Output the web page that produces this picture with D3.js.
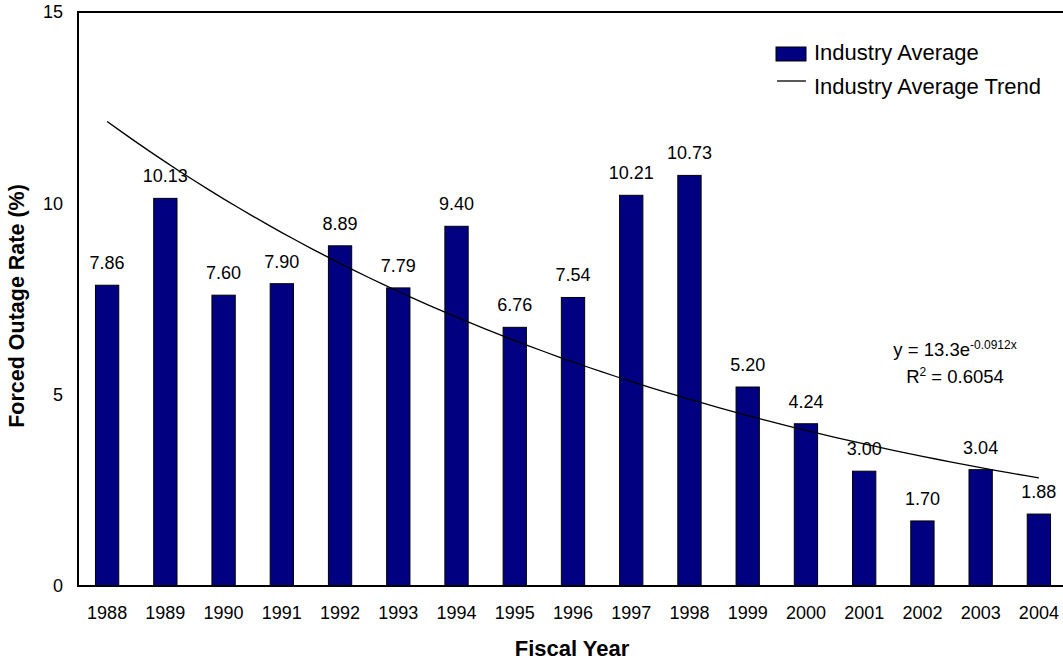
<!DOCTYPE html>
<html>
<head>
<meta charset="utf-8">
<script src="https://cdn.jsdelivr.net/npm/d3@7"></script>
<style>
  html, body { margin: 0; padding: 0; background: #fff; }
  svg { display: block; font-family: "Liberation Sans", Arial, sans-serif; }
</style>
</head>
<body>
<svg id="chart" width="1063" height="666"></svg>
<script>
const years = ["1988","1989","1990","1991","1992","1993","1994","1995","1996","1997","1998","1999","2000","2001","2002","2003","2004"];
const rates = [7.86,10.13,7.60,7.90,8.89,7.79,9.40,6.76,7.54,10.21,10.73,5.20,4.24,3.00,1.70,3.04,1.88];
const yTicks = [0,5,10,15];
const legendLabels = ["Industry Average","Industry Average Trend"];
const equationText = ["y = 13.3e", "-0.0912x"];
const rSquaredText = "R", rSquaredValue = " = 0.6054";

const svg = d3.select("#chart");
const plot = {left: 78, top: 12, right: 1068, bottom: 586};

const x = d3.scaleBand().domain(years).range([plot.left, plot.right]).padding(0);
const y = d3.scaleLinear().domain([0, 15]).range([plot.bottom, plot.top]);
const barW = x.bandwidth() * 0.4;

// Exponential trend fitted to the bar values (least squares on ln y)
const n = rates.length;
const xs = d3.range(1, n + 1);
const ly = rates.map(Math.log);
const mx = d3.mean(xs), my = d3.mean(ly);
const b = d3.sum(xs, (v, i) => (v - mx) * (ly[i] - my)) / d3.sum(xs, v => (v - mx) * (v - mx));
const a = Math.exp(my - b * mx);
const trendPts = d3.range(1, n + 0.001, 0.25).map(t => [t, a * Math.exp(b * t)]);
const xt = d3.scaleLinear().domain([1, n]).range([x(years[0]) + x.bandwidth()/2, x(years[n-1]) + x.bandwidth()/2]);

// bars
svg.append("g").selectAll("rect").data(years).join("rect")
  .attr("x", (d) => x(d) + x.bandwidth()/2 - barW/2)
  .attr("y", (d, i) => y(rates[i]))
  .attr("width", barW)
  .attr("height", (d, i) => y(0) - y(rates[i]))
  .attr("fill", "#000080")
  .attr("stroke", "#000")
  .attr("stroke-width", 1);

// bar labels
svg.append("g").selectAll("text").data(years).join("text")
  .attr("x", d => x(d) + x.bandwidth()/2)
  .attr("y", (d, i) => y(rates[i]) - 16)
  .attr("text-anchor", "middle")
  .attr("font-size", 18)
  .attr("fill", "#000")
  .text((d, i) => rates[i].toFixed(2));

// trend line
svg.append("path")
  .datum(trendPts)
  .attr("d", d3.line().x(p => xt(p[0])).y(p => y(p[1])))
  .attr("fill", "none")
  .attr("stroke", "#000")
  .attr("stroke-width", 1.3);

// frame
svg.append("rect")
  .attr("x", plot.left).attr("y", plot.top)
  .attr("width", plot.right - plot.left).attr("height", plot.bottom - plot.top)
  .attr("fill", "none").attr("stroke", "#000").attr("stroke-width", 2);

// y axis
const yAxis = svg.append("g")
  .attr("transform", `translate(${plot.left},0)`)
  .call(d3.axisLeft(y).tickValues(yTicks).tickSize(0).tickPadding(15).tickFormat(d3.format("d")));
yAxis.select(".domain").remove();
yAxis.selectAll("text").attr("font-size", 18).attr("font-family", "Liberation Sans, Arial, sans-serif").attr("fill", "#000");

// x axis
const xAxis = svg.append("g")
  .attr("transform", `translate(0,${plot.bottom})`)
  .call(d3.axisBottom(x).tickSize(0).tickPadding(20));
xAxis.select(".domain").remove();
xAxis.selectAll("text").attr("font-size", 18).attr("font-family", "Liberation Sans, Arial, sans-serif").attr("fill", "#000");

// axis titles
svg.append("text")
  .attr("x", 572).attr("y", 656)
  .attr("text-anchor", "middle").attr("font-size", 22).attr("font-weight", "bold")
  .text("Fiscal Year");
svg.append("text")
  .attr("transform", `translate(24,${(plot.top + plot.bottom)/2 + 7}) rotate(-90)`)
  .attr("text-anchor", "middle").attr("font-size", 21.5).attr("font-weight", "bold")
  .text("Forced Outage Rate (%)");

// legend
const lg = svg.append("g");
lg.append("rect").attr("x", 776).attr("y", 47).attr("width", 30).attr("height", 14)
  .attr("fill", "#000080").attr("stroke", "#000").attr("stroke-width", 1);
lg.append("line").attr("x1", 777).attr("x2", 806).attr("y1", 81).attr("y2", 81)
  .attr("stroke", "#000").attr("stroke-width", 1.3);
lg.selectAll("text").data(legendLabels).join("text")
  .attr("x", 814).attr("y", (d, i) => 60 + i * 34)
  .attr("font-size", 22).attr("fill", "#000")
  .text(d => d);

// equation
const eq = svg.append("text").attr("x", 955).attr("y", 356).attr("text-anchor", "middle").attr("font-size", 18.5);
eq.append("tspan").text(equationText[0]);
eq.append("tspan").attr("font-size", 12).attr("dy", -7).text(equationText[1]);
const r2 = svg.append("text").attr("x", 955).attr("y", 383).attr("text-anchor", "middle").attr("font-size", 18.5);
r2.append("tspan").text(rSquaredText);
r2.append("tspan").attr("font-size", 12).attr("dy", -7).text("2");
r2.append("tspan").attr("dy", 7).text(rSquaredValue);
</script>
</body>
</html>
